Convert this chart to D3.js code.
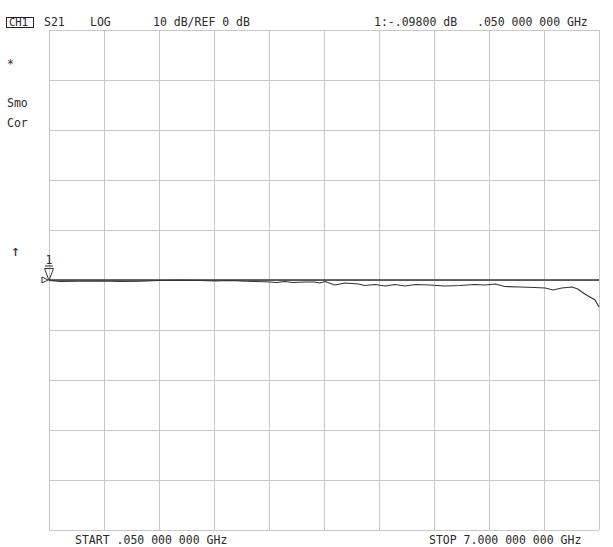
<!DOCTYPE html>
<html>
<head>
<meta charset="utf-8">
<script src="https://cdn.jsdelivr.net/npm/d3@7"></script>
<style>
  body { margin: 0; background: #fff; }
  svg text { font-family: "DejaVu Sans Mono", monospace; font-size: 11.5px; fill: #2a2a2a; }
</style>
</head>
<body>
<svg></svg>
<script>
// sweep settings
let startGHz = 0.05
let stopGHz = 7.0
let refLevel = 0
let dbPerDiv = 10

// S21 trace (GHz, dB)
let freq = [0.05, 0.19, 0.44, 0.69, 0.95, 1.20, 1.45, 1.71, 1.96, 2.15, 2.34, 2.53, 2.65, 2.78,
            2.93, 3.03, 3.13, 3.29, 3.41, 3.47, 3.54, 3.66, 3.79, 3.96, 4.04, 4.17, 4.30, 4.42,
            4.55, 4.68, 4.86, 5.05, 5.24, 5.43, 5.56, 5.69, 5.81, 6.00, 6.19, 6.32, 6.42, 6.53,
            6.66, 6.73, 6.82, 6.95, 7.00]
let s21 = [-0.098, -0.3, -0.25, -0.2, -0.3, -0.25, -0.1, -0.05, -0.1, -0.2, -0.1, -0.25, -0.3, -0.35,
           -0.5, -0.3, -0.5, -0.4, -0.4, -0.6, -0.3, -1.0, -0.6, -0.8, -1.1, -0.9, -1.2, -0.9,
           -1.2, -0.9, -1.0, -1.2, -1.1, -0.9, -1.0, -0.8, -1.3, -1.4, -1.5, -1.6, -2.0, -1.6,
           -1.4, -1.8, -2.8, -4.0, -5.4]

let headerLeft = ['S21', 'LOG', '10 dB/REF 0 dB']
let headerRight = ['1:-.09800 dB', '.050 000 000 GHz']
let sideLabels = ['*', 'Smo', 'Cor']
let startLabel = 'START .050 000 000 GHz'
let stopLabel = 'STOP 7.000 000 000 GHz'

let width = 613
let height = 547
let padLeft = 49, padRight = 599, padTop = 30, padBottom = 530

let svg = d3.select('svg').attr('width', width).attr('height', height)

let xScale = d3.scaleLinear().domain([startGHz, stopGHz]).range([padLeft, padRight])
let yScale = d3.scaleLinear()
               .domain([refLevel - 5 * dbPerDiv, refLevel + 5 * dbPerDiv])
               .range([padBottom, padTop])

// graticule from axes
let xTicks = d3.range(11).map(i => startGHz + i * (stopGHz - startGHz) / 10)
let yTicks = d3.range(11).map(i => refLevel - 50 + i * dbPerDiv)

svg.append('g')
   .attr('transform', 'translate(0,' + padBottom + ')')
   .call(d3.axisBottom(xScale).tickValues(xTicks).tickSize(-(padBottom - padTop)).tickFormat(''))
svg.append('g')
   .attr('transform', 'translate(' + padLeft + ',0)')
   .call(d3.axisLeft(yScale).tickValues(yTicks).tickSize(-(padRight - padLeft)).tickFormat(''))

svg.selectAll('.domain').remove()
svg.selectAll('.tick line')
   .attr('stroke', '#c8c8c8')
   .attr('stroke-width', 1)
   .attr('shape-rendering', 'crispEdges')

// reference line
svg.append('line')
   .attr('x1', xScale(startGHz)).attr('x2', xScale(stopGHz))
   .attr('y1', yScale(refLevel)).attr('y2', yScale(refLevel))
   .attr('stroke', '#333').attr('stroke-width', 1.6)

// trace
let line = d3.line()
             .x((d, i) => xScale(freq[i]))
             .y(d => yScale(d))
svg.append('path')
   .datum(s21)
   .attr('d', line)
   .attr('fill', 'none')
   .attr('stroke', '#333')
   .attr('stroke-width', 1.1)

// marker 1
let mx = xScale(freq[0]), my = yScale(s21[0])
svg.append('path')
   .attr('d', 'M' + (mx - 4.5) + ',' + (my - 12) + 'L' + (mx + 4.5) + ',' + (my - 12) + 'L' + mx + ',' + my + 'Z')
   .attr('fill', 'none').attr('stroke', '#333').attr('stroke-width', 1)
svg.append('line')
   .attr('x1', mx - 4).attr('x2', mx + 4).attr('y1', my - 14.5).attr('y2', my - 14.5)
   .attr('stroke', '#333')
svg.append('text').attr('x', mx).attr('y', my - 16).attr('text-anchor', 'middle').text('1')

// reference position marker on the left
let ry = yScale(refLevel)
svg.append('path')
   .attr('d', 'M' + (padLeft - 7) + ',' + (ry - 3) + 'L' + (padLeft - 1) + ',' + ry + 'L' + (padLeft - 7) + ',' + (ry + 3) + 'Z')
   .attr('fill', 'none').attr('stroke', '#333').attr('stroke-width', 1)
svg.append('text').attr('x', 11).attr('y', ry - 24).style('font-size', '15px').text('↑')

// header
svg.append('rect').attr('x', 6.5).attr('y', 17.5).attr('width', 27).attr('height', 10)
   .attr('fill', 'none').attr('stroke', '#222')
svg.append('text').attr('x', 9).attr('y', 26).style('font-size', '10.5px').text('CH1')
let hx = [44, 90, 153]
headerLeft.forEach((t, i) => svg.append('text').attr('x', hx[i]).attr('y', 26).text(t))
let hrx = [374, 477]
headerRight.forEach((t, i) => svg.append('text').attr('x', hrx[i]).attr('y', 26).text(t))

let sy = [68, 107, 127]
sideLabels.forEach((t, i) => svg.append('text').attr('x', 7).attr('y', sy[i]).text(t))

svg.append('text').attr('x', 75).attr('y', 544).text(startLabel)
svg.append('text').attr('x', 429).attr('y', 544).text(stopLabel)
</script>
</body>
</html>
